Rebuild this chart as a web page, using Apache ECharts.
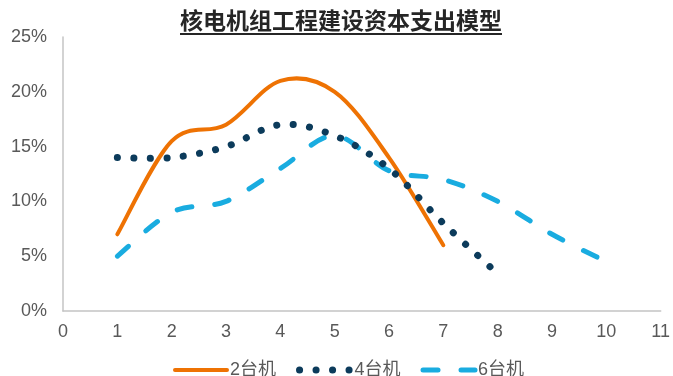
<!DOCTYPE html>
<html>
<head>
<meta charset="utf-8">
<script src="https://cdn.jsdelivr.net/npm/echarts@6/dist/echarts.min.js"></script>
<style>
  html, body { margin: 0; padding: 0; background: #fff; }
  #chart { width: 673px; height: 376px; }
</style>
</head>
<body>
<div id="chart"></div>
<script>
// Capital expenditure share by construction year, per plant configuration
const titleText = '核电机组工程建设资本支出模型';
const seriesNames = ['2台机', '4台机', '6台机'];
const years2 = [1, 2, 3, 4, 5, 6, 7];
const share2 = [7, 15.5, 17, 21, 20, 14, 6];
const years4 = [1, 2, 3, 4, 5, 6, 7, 8];
const share4 = [14, 14, 15, 17, 16, 13, 8, 3.4];
const years6 = [1, 2, 3, 4, 5, 6, 7, 8, 9, 10];
const share6 = [5, 9, 10, 13, 16, 12.8, 12, 10, 7, 4.5];
const yTicks = [0, 5, 10, 15, 20, 25];

const pairs = (xs, ys) => xs.map((x, i) => [x, ys[i]]);

const labelFont = '"Liberation Sans", Arial, "Noto Sans CJK SC", sans-serif';
const titleFont = 'bold 23px "Noto Sans CJK SC", "Liberation Sans", sans-serif';

const lineStyles = [
  { color: '#EE7203', width: 4, cap: 'round' },
  { color: '#0C3B5B', width: 7, type: [0.1, 16.4], cap: 'round' },
  { color: '#19ACE0', width: 5, type: [15, 23], cap: 'round' }
];

// width of the title, used to size its underline
const ctx = document.createElement('canvas').getContext('2d');
ctx.font = titleFont;
const titleW = ctx.measureText(titleText).width;
const titleCx = 341;

// Cardinal (Catmull-Rom) spline through the points of one series,
// drawn once as a single path so the dash pattern runs continuously.
function splineRenderer(xs, ys, ls) {
  return function (params, api) {
    if (params.dataIndex !== 0) return null;
    const pts = xs.map((x, i) => api.coord([x, ys[i]]));
    const n = pts.length;
    let d = 'M' + pts[0][0] + ',' + pts[0][1];
    for (let i = 0; i < n - 1; i++) {
      const p0 = pts[Math.max(i - 1, 0)];
      const p1 = pts[i];
      const p2 = pts[i + 1];
      const p3 = pts[Math.min(i + 2, n - 1)];
      const c1x = p1[0] + (p2[0] - p0[0]) / 6, c1y = p1[1] + (p2[1] - p0[1]) / 6;
      const c2x = p2[0] - (p3[0] - p1[0]) / 6, c2y = p2[1] - (p3[1] - p1[1]) / 6;
      d += ' C' + c1x + ',' + c1y + ' ' + c2x + ',' + c2y + ' ' + p2[0] + ',' + p2[1];
    }
    return {
      type: 'path',
      shape: { pathData: d },
      style: {
        fill: null,
        stroke: ls.color,
        lineWidth: ls.width,
        lineDash: ls.type || null,
        lineCap: ls.cap
      }
    };
  };
}

const allX = [years2, years4, years6];
const allY = [share2, share4, share6];
const zOrder = [2, 4, 3];

// empty line series carry the legend entries; custom series draw the curves
const legendSeries = seriesNames.map((name, k) => ({
  name,
  type: 'line',
  data: [],
  symbol: 'none',
  lineStyle: lineStyles[k],
  itemStyle: { color: lineStyles[k].color }
}));
const curveSeries = seriesNames.map((name, k) => ({
  name,
  type: 'custom',
  data: pairs(allX[k], allY[k]),
  encode: { x: 0, y: 1 },
  z: zOrder[k],
  clip: false,
  itemStyle: { color: lineStyles[k].color },
  renderItem: splineRenderer(allX[k], allY[k], lineStyles[k])
}));

const chart = echarts.init(document.getElementById('chart'), null, { renderer: 'canvas' });
chart.setOption({
  animation: false,
  backgroundColor: '#ffffff',
  graphic: [
    {
      type: 'text',
      left: titleCx - titleW / 2,
      top: 9,
      style: {
        text: titleText,
        font: titleFont,
        fill: '#262626'
      }
    },
    {
      type: 'rect',
      shape: { x: titleCx - titleW / 2, y: 33, width: titleW, height: 2 },
      style: { fill: '#262626' }
    }
  ],
  grid: { left: 63, right: 10, top: 37, bottom: 65, containLabel: false },
  legend: {
    left: 168,
    top: 356,
    itemWidth: 52,
    itemHeight: 14,
    itemGap: 20,
    data: seriesNames,
    itemStyle: { opacity: 0 },
    lineStyle: { width: 'inherit' },
    textStyle: { color: '#595959', fontSize: 18, fontFamily: labelFont, padding: [0, 0, 0, -2] }
  },
  xAxis: {
    type: 'value',
    min: 0,
    max: 11,
    interval: 1,
    splitLine: { show: false },
    axisTick: { show: false },
    axisLine: { lineStyle: { color: '#c4c4c4', width: 1.5 } },
    axisLabel: { color: '#595959', fontSize: 18, fontFamily: labelFont, margin: 12 }
  },
  yAxis: {
    type: 'value',
    min: yTicks[0],
    max: yTicks[yTicks.length - 1],
    interval: yTicks[1] - yTicks[0],
    splitLine: { show: false },
    axisTick: { show: false },
    axisLine: { show: true, lineStyle: { color: '#c4c4c4', width: 1.5 } },
    axisLabel: { color: '#595959', fontSize: 18, fontFamily: labelFont, margin: 16, formatter: v => v + '%' }
  },
  series: legendSeries.concat(curveSeries)
});
</script>
</body>
</html>
